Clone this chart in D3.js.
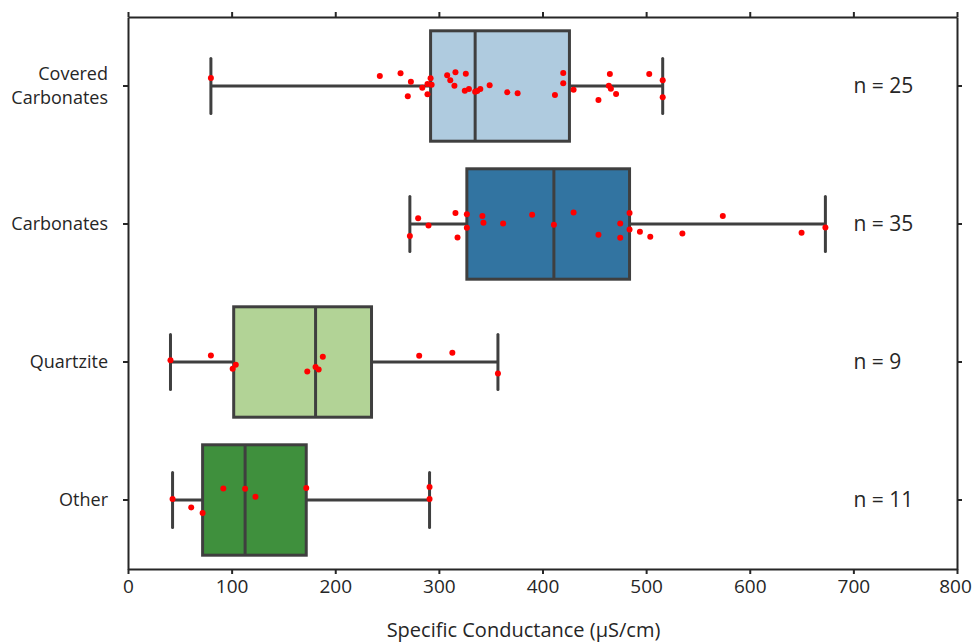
<!DOCTYPE html>
<html>
<head>
<meta charset="utf-8">
<script src="https://cdn.jsdelivr.net/npm/d3@7"></script>
<style>
  body { margin: 0; background: #fff; }
  text { font-family: "Open Sans", sans-serif; fill: #262626; }
</style>
</head>
<body>
<div id="chart"></div>
<script>
const categories = ["Covered Carbonates", "Carbonates", "Quartzite", "Other"];
const counts = [25, 35, 9, 11];
const boxColors = ["#afcbdf", "#3274a1", "#b2d396", "#3f903d"];

// five number summaries: whisker low, q1, median, q3, whisker high
const boxStats = [
    [80, 292, 335, 426, 516],
    [272, 327, 411, 484, 673],
    [41, 102, 181, 235, 357],
    [43, 72, 113, 172, 291]
];

// observed values and their vertical jitter (fraction of band)
const coveredValues = [80, 243, 263, 273, 270, 284, 289, 292, 293, 289, 308, 316, 311, 315, 326, 325, 329, 335, 337, 340, 349, 366, 376, 412, 420, 420, 430, 454, 465, 464, 466, 471, 503, 516, 516];
const coveredJitter = [-0.058, -0.072, -0.092, -0.031, 0.075, 0.012, -0.014, -0.056, -0.009, 0.060, -0.077, -0.099, -0.041, -0.002, -0.089, 0.034, 0.022, 0.041, 0.036, 0.022, -0.005, 0.046, 0.053, 0.065, -0.094, -0.020, 0.027, 0.101, -0.087, -0.002, 0.020, 0.058, -0.087, -0.041, 0.082];

const carbonateValues = [272, 280, 290, 316, 318, 327, 327, 342, 343, 362, 390, 411, 430, 454, 475, 475, 484, 484, 494, 504, 535, 574, 650, 673];
const carbonateJitter = [0.087, -0.041, 0.010, -0.080, 0.097, -0.070, 0.027, -0.058, -0.009, -0.004, -0.067, 0.005, -0.084, 0.078, -0.004, 0.099, -0.080, 0.039, 0.056, 0.092, 0.068, -0.058, 0.063, 0.025];

const quartziteValues = [41, 80, 104, 101, 173, 181, 184, 188, 281, 313, 357];
const quartziteJitter = [-0.012, -0.048, 0.020, 0.049, 0.068, 0.036, 0.054, -0.038, -0.046, -0.067, 0.083];

const otherValues = [43, 61, 72, 92, 113, 123, 172, 291, 291];
const otherJitter = [-0.007, 0.054, 0.094, -0.084, -0.082, -0.024, -0.087, -0.094, -0.007];

const xTicks = [0, 100, 200, 300, 400, 500, 600, 700, 800];

const groups = [
    [coveredValues, coveredJitter],
    [carbonateValues, carbonateJitter],
    [quartziteValues, quartziteJitter],
    [otherValues, otherJitter]
];

const points = [];
groups.forEach(function (g, i) {
    g[0].forEach(function (v, j) {
        points.push({ cat: categories[i], value: v, jitter: g[1][j] });
    });
});

const margin = { top: 17, right: 15, bottom: 74, left: 128 };
const width = 972 - margin.left - margin.right,
    height = 643 - margin.top - margin.bottom;

const svg = d3.select("#chart")
    .append("svg")
    .attr("width", 972)
    .attr("height", 643)
    .append("g")
    .attr("transform", `translate(${margin.left},${margin.top})`);

const x = d3.scaleLinear()
    .domain([0, 800])
    .range([0, width]);

const y = d3.scaleBand()
    .domain(categories)
    .range([0, height])
    .padding(0);

const bw = y.bandwidth();
const boxH = bw * 0.8;
const capH = bw * 0.4;
const lineColor = "#3f3f3f";

// boxes
const box = svg.selectAll(".box")
    .data(categories)
    .join("g")
    .attr("class", "box")
    .attr("transform", d => `translate(0,${y(d) + bw / 2})`);

box.append("line")
    .attr("x1", (d, i) => x(boxStats[i][0]))
    .attr("x2", (d, i) => x(boxStats[i][1]))
    .attr("stroke", lineColor)
    .attr("stroke-width", 3);

box.append("line")
    .attr("x1", (d, i) => x(boxStats[i][3]))
    .attr("x2", (d, i) => x(boxStats[i][4]))
    .attr("stroke", lineColor)
    .attr("stroke-width", 3);

box.append("line")
    .attr("x1", (d, i) => x(boxStats[i][0]))
    .attr("x2", (d, i) => x(boxStats[i][0]))
    .attr("y1", -capH / 2)
    .attr("y2", capH / 2)
    .attr("stroke", lineColor)
    .attr("stroke-width", 3)
    .attr("stroke-linecap", "round");

box.append("line")
    .attr("x1", (d, i) => x(boxStats[i][4]))
    .attr("x2", (d, i) => x(boxStats[i][4]))
    .attr("y1", -capH / 2)
    .attr("y2", capH / 2)
    .attr("stroke", lineColor)
    .attr("stroke-width", 3)
    .attr("stroke-linecap", "round");

box.append("rect")
    .attr("x", (d, i) => x(boxStats[i][1]))
    .attr("y", -boxH / 2)
    .attr("width", (d, i) => x(boxStats[i][3]) - x(boxStats[i][1]))
    .attr("height", boxH)
    .attr("fill", (d, i) => boxColors[i])
    .attr("stroke", lineColor)
    .attr("stroke-width", 3);

box.append("line")
    .attr("x1", (d, i) => x(boxStats[i][2]))
    .attr("x2", (d, i) => x(boxStats[i][2]))
    .attr("y1", -boxH / 2)
    .attr("y2", boxH / 2)
    .attr("stroke", lineColor)
    .attr("stroke-width", 3);

// strip points
svg.selectAll(".pt")
    .data(points)
    .join("circle")
    .attr("class", "pt")
    .attr("cx", d => x(d.value))
    .attr("cy", d => y(d.cat) + bw / 2 + d.jitter * bw)
    .attr("r", 3)
    .attr("fill", "red");

// n labels
svg.selectAll(".nlab")
    .data(categories)
    .join("text")
    .attr("class", "nlab")
    .attr("x", x(700))
    .attr("y", d => y(d) + bw / 2)
    .attr("dy", "0.35em")
    .style("font-size", "21px")
    .text((d, i) => "n = " + counts[i]);

// axes, mirrored on all four sides
const axisStyle = function (g) {
    g.selectAll(".domain").attr("stroke", "#262626").attr("stroke-width", 2);
    g.selectAll(".tick line").attr("stroke", "#262626").attr("stroke-width", 2);
};

svg.append("g")
    .attr("transform", `translate(0,${height})`)
    .call(d3.axisBottom(x).tickValues(xTicks).tickSize(5).tickPadding(6).tickSizeOuter(0))
    .call(axisStyle)
    .selectAll("text")
    .style("font-size", "19px")
    .attr("fill", "#262626")
    .attr("dx", d => d === 800 ? -2 : 0);

svg.append("g")
    .call(d3.axisTop(x).tickValues(xTicks).tickSize(5).tickSizeOuter(0).tickFormat(""))
    .call(axisStyle);

svg.append("g")
    .attr("transform", `translate(${width},0)`)
    .call(d3.axisRight(y).tickSize(5).tickSizeOuter(0).tickFormat(""))
    .call(axisStyle);

const yAxis = svg.append("g")
    .call(d3.axisLeft(y).tickSize(5).tickSizeOuter(0).tickFormat(""))
    .call(axisStyle);

// category labels, wrapped on spaces for the two-word one
yAxis.selectAll(".tick")
    .append("text")
    .attr("x", -20)
    .attr("text-anchor", "end")
    .style("font-size", "18px")
    .attr("fill", "#262626")
    .each(function (d) {
        const words = d.split(" ");
        const t = d3.select(this);
        words.forEach(function (w, k) {
            t.append("tspan")
                .attr("x", -20)
                .attr("y", (k - (words.length - 1) / 2) * 24)
                .attr("dy", "0.35em")
                .text(w);
        });
    });

svg.append("text")
    .attr("x", width / 2 - 19)
    .attr("y", height + 68)
    .attr("text-anchor", "middle")
    .style("font-size", "20px")
    .text("Specific Conductance (µS/cm)");
</script>
</body>
</html>
